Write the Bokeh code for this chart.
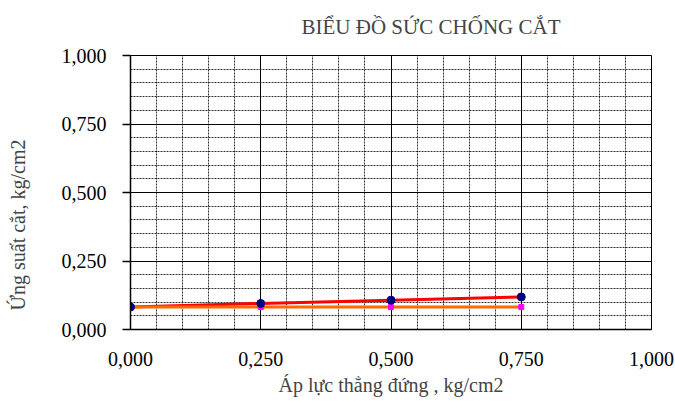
from bokeh.plotting import figure
from bokeh.models import Range1d, FixedTicker, Title
from bokeh.embed import file_html
from bokeh.resources import INLINE

# Shear test results: normal stress (kg/cm2) vs. shear strength (kg/cm2)
sigma = [0.0, 0.25, 0.5, 0.75]
tau = [0.082, 0.095, 0.107, 0.119]
cohesion = [0.082, 0.082, 0.082, 0.082]

major_ticks = [0.0, 0.25, 0.5, 0.75, 1.0]
minor_ticks = [i * 0.05 for i in range(21)]
tick_labels = ["0,000", "0,250", "0,500", "0,750", "1,000"]

FONT = "Liberation Serif"
NBSP = "\u00a0"

p = figure(width=675, height=405, output_backend="svg", toolbar_location=None,
           x_range=Range1d(0, 1), y_range=Range1d(0, 1),
           min_border_left=130, min_border_right=24, min_border_top=55,
           min_border_bottom=76)
p.background_fill_color = "white"
p.outline_line_color = "black"
p.outline_line_width = 1

for ax in (p.xaxis[0], p.yaxis[0]):
    ax.ticker = FixedTicker(ticks=major_ticks, minor_ticks=minor_ticks)
    ax.major_label_overrides = {t: l for t, l in zip(major_ticks, tick_labels)}
    ax.major_label_text_font = FONT
    ax.major_label_text_font_size = "20px"
    ax.major_label_text_color = "black"
    ax.axis_line_color = "black"
    ax.axis_line_width = 1.5
    ax.minor_tick_out = 0
    ax.minor_tick_in = 0
    ax.major_tick_in = 0
    ax.axis_label_text_font = FONT
    ax.axis_label_text_font_size = "20px"
    ax.axis_label_text_font_style = "normal"

p.xaxis.major_tick_out = 0
p.xaxis.major_label_standoff = 22
p.xaxis.axis_label = "Áp lực thẳng đứng , kg/cm2"
p.xaxis.axis_label_standoff = 5

p.yaxis.major_tick_out = 8
p.yaxis.major_tick_line_color = "black"
p.yaxis.major_tick_line_width = 1.5
p.yaxis.major_label_standoff = 16
# trailing no-break spaces nudge the centred label toward the lower end
p.yaxis.axis_label = "Ứng suất cắt, kg/cm2" + NBSP * 13
p.yaxis.axis_label_standoff = 30

for g in (p.xgrid[0], p.ygrid[0]):
    g.ticker = FixedTicker(ticks=major_ticks, minor_ticks=minor_ticks)
    g.grid_line_color = "black"
    g.grid_line_width = 1
    g.grid_line_alpha = 1.0
    g.minor_grid_line_color = "black"
    g.minor_grid_line_alpha = 0.8
    g.minor_grid_line_dash = "2 1"
    g.minor_grid_line_width = 1

p.add_layout(Title(text="BIỂU ĐỒ SỨC CHỐNG CẮT", align="left", offset=171,
                   vertical_align="top",
                   text_font=FONT, text_font_size="21px",
                   text_font_style="normal", standoff=29), "above")

# shear strength trend
p.line(sigma, tau, line_color="#FF0000", line_width=3)
# cohesion level
p.line(sigma, cohesion, line_color="#FF6A00", line_width=3)
p.scatter(sigma, cohesion, marker="square", size=5, fill_color="#FF00FF",
          line_color="#FF00FF")
# measured points
p.scatter(sigma, tau, marker="circle", size=8, fill_color="#000080",
          line_color="#000080")

open("out.html", "w").write(file_html(p, INLINE))
